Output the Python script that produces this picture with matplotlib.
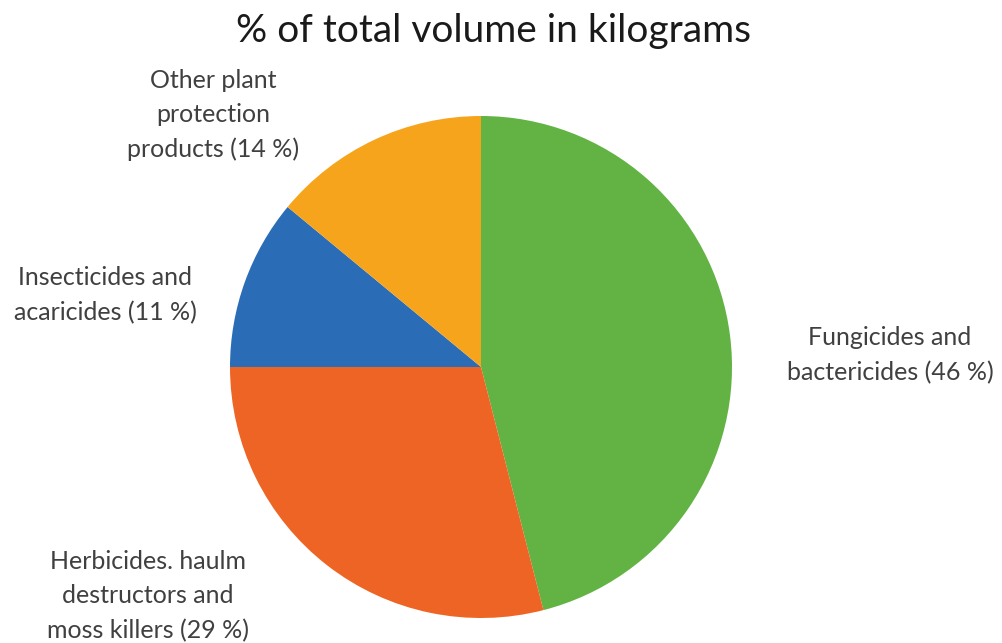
import matplotlib
matplotlib.use("Agg")
import matplotlib.pyplot as plt

# Share of total pesticide volume (kg) by product group
categories = [
    "Fungicides and\nbactericides (46 %)",
    "Herbicides. haulm\ndestructors and\nmoss killers (29 %)",
    "Insecticides and\nacaricides (11 %)",
    "Other plant\nprotection\nproducts (14 %)",
]
shares = [46, 29, 11, 14]
colors = ["#62B344", "#EE6424", "#2A6DB6", "#F7A41D"]
title = "% of total volume in kilograms"

plt.rcParams["font.family"] = ["Lato", "DejaVu Sans"]

W, H = 1002, 643
fig = plt.figure(figsize=(W / 100, H / 100), dpi=100)
ax = fig.add_axes([0, 0, 1, 1])

ax.pie(shares, colors=colors, startangle=90, counterclock=False,
       center=(481, H - 367), radius=251, frame=True,
       wedgeprops=dict(linewidth=0))
ax.set_xlim(0, W)
ax.set_ylim(0, H)
ax.set_aspect("equal")
ax.axis("off")

# label anchors (pixel layout, y measured from top)
label_pos = [(890, 355), (148, 596), (105, 295), (213, 115)]
for text, (x, y) in zip(categories, label_pos):
    ax.text(x, H - y, text, ha="center", va="center", fontsize=18,
            color="#404040", linespacing=1.6)

ax.text(494, H - 31, title, ha="center", va="center", fontsize=28,
        color="#1a1a1a")

fig.savefig("out.png", dpi=100)
